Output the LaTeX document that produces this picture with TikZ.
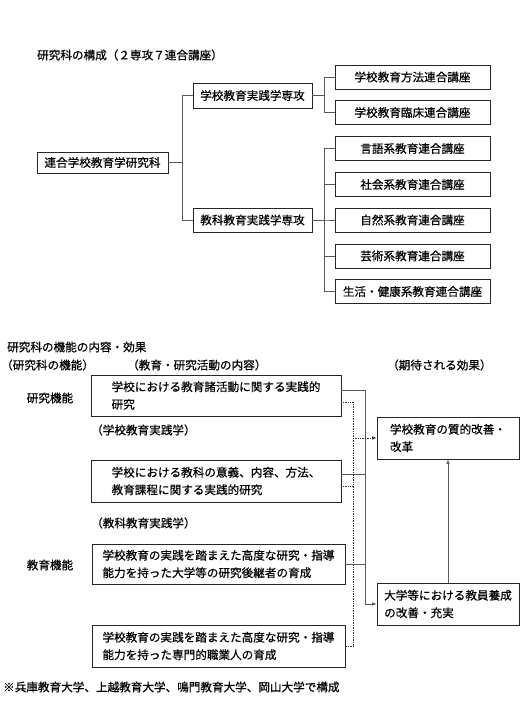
\documentclass[tikz,border=0pt]{standalone}
\usepackage{fontspec}
\newfontfamily\jpfont{Noto Sans CJK JP}[FakeBold=0.6]
\usetikzlibrary{arrows.meta}
\tikzset{
  jp/.style={font=\jpfont\fontsize{11.6}{17.5}\selectfont},
  box/.style={jp, draw=black!85, line width=0.7pt, inner sep=0pt, align=left, fill=white},
  lbl/.style={jp, inner sep=0pt, anchor=west},
  conn/.style={draw=black!65, line width=0.6pt},
  dots/.style={draw=black!80, line width=0.7pt, densely dotted},
  arr/.style={-{Latex[length=4.5pt,width=3.5pt]}}
}
\begin{document}
\begin{tikzpicture}[x=1pt,y=-1pt]
\useasboundingbox[fill=white] (0,0) rectangle (530,708);

% ---------- top: structure ----------
\node[lbl] (title) at (37,55) {研究科の構成（２専攻７連合講座）};

\node[box, minimum width=131pt, minimum height=21pt] (root) at (102.5,162.5) {連合学校教育学研究科};
\node[box, minimum width=119pt, minimum height=25pt] (mid1) at (252.5,95.5) {学校教育実践学専攻};
\node[box, minimum width=119pt, minimum height=24pt] (mid2) at (252.5,220) {教科教育実践学専攻};

\node[box, minimum width=155pt, minimum height=24pt] (l1) at (412.5,77) {学校教育方法連合講座};
\node[box, minimum width=155pt, minimum height=24pt] (l2) at (412.5,112.5) {学校教育臨床連合講座};
\node[box, minimum width=155pt, minimum height=24pt] (l3) at (412.5,148.5) {言語系教育連合講座};
\node[box, minimum width=155pt, minimum height=24pt] (l4) at (412.5,184.5) {社会系教育連合講座};
\node[box, minimum width=155pt, minimum height=24pt] (l5) at (412.5,220) {自然系教育連合講座};
\node[box, minimum width=155pt, minimum height=24pt] (l6) at (412.5,256) {芸術系教育連合講座};
\node[box, minimum width=155pt, minimum height=24pt] (l7) at (412.5,291.5) {生活・健康系教育連合講座};

\draw[conn] (root.east) -- ++(14,0) |- (mid1.west);
\draw[conn] (root.east) -- ++(14,0) |- (mid2.west);
\draw[conn] (mid1.east) -- ++(12,0) |- (l1.west);
\draw[conn] (mid1.east) -- ++(12,0) |- (l2.west);
\foreach \n in {l3,l4,l5,l6,l7}{
  \draw[conn] (mid2.east) -- ++(12,0) |- (\n.west);
}

% ---------- bottom: functions ----------
\node[lbl] (t2) at (7,347) {研究科の機能の内容・効果};
\node[lbl] (h1) at (1,365) {（研究科の機能）};
\node[lbl] (h2) at (127,365) {（教育・研究活動の内容）};
\node[lbl] (h3) at (387,365) {（期待される効果）};

\node[jp, inner sep=0pt] (f1) at (50,398) {研究機能};
\node[jp, inner sep=0pt] (f2) at (50,565) {教育機能};

\node[box, minimum width=250pt, minimum height=41pt] (A) at (216,395.5)
  {学校における教育諸活動に関する実践的\\研究};
\node[lbl] (sA) at (91,430) {（学校教育実践学）};
\node[box, minimum width=250pt, minimum height=42pt] (B) at (216,481)
  {学校における教科の意義、内容、方法、\\教育課程に関する実践的研究};
\node[lbl] (sB) at (91,523) {（教科教育実践学）};
\node[box, minimum width=253pt, minimum height=40pt] (D) at (218.5,564)
  {学校教育の実践を踏まえた高度な研究・指導\\能力を持った大学等の研究後継者の育成};
\node[box, minimum width=253pt, minimum height=42pt] (F) at (218.5,646)
  {学校教育の実践を踏まえた高度な研究・指導\\能力を持った専門的職業人の育成};

\node[box, minimum width=142pt, minimum height=42pt] (C) at (448,438)
  {学校教育の質的改善・\\改革};
\node[box, minimum width=142pt, minimum height=42pt] (E) at (448,604)
  {大学等における教員養成\\の改善・充実};

\coordinate (sbus) at (365,390);
\coordinate (dbus) at (353,402);

% solid connectors
\draw[conn, arr] ([yshift=5.5pt]A.east) -- (sbus) |- (E.west);
\draw[conn] ([yshift=7pt]B.east) -- ++(24,0);
\draw[conn] (D.east) -- (D.east -| sbus);
\draw[conn, arr] (E.north) -- (C.south);

% dotted connectors
\draw[dots] ([yshift=-6.5pt]A.east) -- (dbus) |- (F.east);
\draw[dots] ([yshift=-5pt]B.east) -- ++(12,0);
\draw[dots, arr] (dbus |- C.west) -- (C.west);

\node[lbl] (note) at (3,687) {※兵庫教育大学、上越教育大学、鳴門教育大学、岡山大学で構成};
\end{tikzpicture}
\end{document}
